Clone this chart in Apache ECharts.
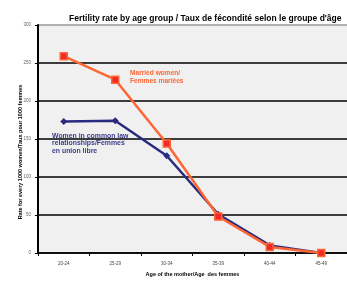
<!DOCTYPE html>
<html><head><meta charset="utf-8">
<script src="https://cdn.jsdelivr.net/npm/echarts@6/dist/echarts.min.js"></script>
<style>html,body{margin:0;padding:0;background:#fff}#c{width:347px;height:282px}</style>
</head><body><div id="c"></div>
<script>
const categories = ['20-24','25-29','30-34','35-39','40-44','45-49'];
const married = [259, 228, 144, 48, 8, 0];
const commonLaw = [173, 174, 128, 51, 10, 0];
const yTicks = [0, 50, 100, 150, 200, 250, 300];

const chart = echarts.init(document.getElementById('c'), null, {renderer:'canvas'});
chart.setOption({
  animation: false,
  backgroundColor: '#fff',
  title: {
    text: 'Fertility rate by age group / Taux de fécondité selon le groupe d\'âge',
    left: 64, top: 9,
    textStyle: {fontFamily: 'Liberation Sans', fontSize: 8.5, fontWeight: 'bold', color: '#000'}
  },
  grid: {left: 38, right: -2, top: 25, bottom: 28, show: true, backgroundColor: '#f0f0f0', borderWidth: 0},
  xAxis: {
    type: 'category', data: categories, boundaryGap: true,
    name: 'Age of the mother/Age  des femmes', nameLocation: 'middle', nameGap: 18,
    nameTextStyle: {fontFamily: 'Liberation Sans', fontSize: 5.5, fontWeight: 'bold', color: '#000'},
    axisLine: {lineStyle: {color: '#000', width: 1.5}},
    axisTick: {show: true, inside: false, length: 3, lineStyle: {color: '#000', width: 1}},
    axisLabel: {fontFamily: 'Liberation Sans', fontSize: 4.5, color: '#444', margin: 8}
  },
  yAxis: {
    type: 'value', min: 0, max: 300, interval: 50,
    axisLine: {show: true, lineStyle: {color: '#000', width: 2}},
    axisTick: {show: true, length: 3, lineStyle: {color: '#000'}},
    axisLabel: {fontFamily: 'Liberation Sans', fontSize: 4.5, color: '#666', margin: 7,
      formatter: v => yTicks.includes(v) ? String(v) : ''},
    splitLine: {show: true, lineStyle: {color: ['#000','#000','#000','#000','#000','#000','#999'], width: 1.5}}
  },
  series: [
    {
      name: 'Common law', type: 'line', data: commonLaw,
      symbol: 'diamond', symbolSize: 7,
      lineStyle: {color: '#2a2a80', width: 2.5},
      itemStyle: {color: '#2a2a80'},
      z: 2
    },
    {
      name: 'Married', type: 'line', data: married,
      symbol: 'rect', symbolSize: 7,
      lineStyle: {color: '#ff6633', width: 2.5},
      itemStyle: {color: '#ee2a2a', borderColor: '#ff6633', borderWidth: 1.5},
      z: 3
    }
  ],
  graphic: [
    {type: 'text', x: 20, y: 152, rotation: Math.PI / 2,
      style: {text: 'Rate for every 1000 women/Taux pour 1000 femmes', fill: '#000',
        font: 'bold 5.5px Liberation Sans', align: 'center', verticalAlign: 'middle'}},
    {type: 'text', left: 130, top: 69, style: {text: 'Married women/\nFemmes mariées', fill: '#ff6633',
      font: 'bold 6.6px Liberation Sans', lineHeight: 8}},
    {type: 'text', left: 52, top: 132, style: {text: 'Women in common law\nrelationships/Femmes\nen union libre', fill: '#3c3c8c',
      font: 'bold 6.9px Liberation Sans', lineHeight: 7.5}}
  ]
});
</script></body></html>
